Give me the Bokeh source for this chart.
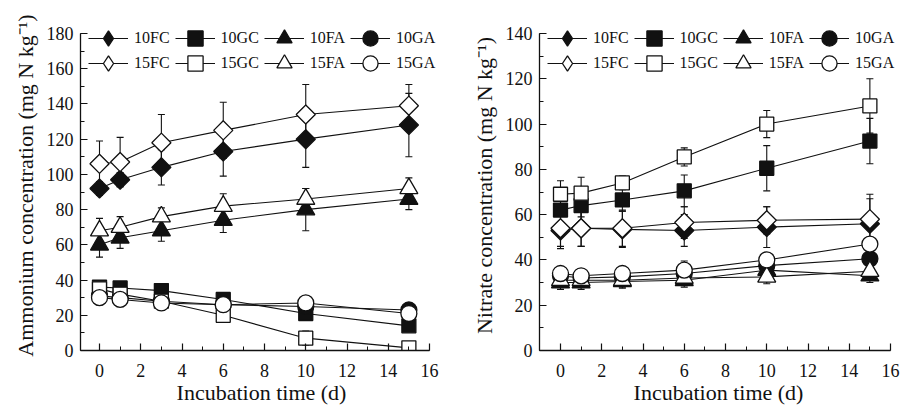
import numpy as np
from bokeh.plotting import figure
from bokeh.models import (Range1d, SingleIntervalTicker, ColumnDataSource, Whisker,
                          TeeHead, Legend, LegendItem)
from bokeh.layouts import row
from bokeh.embed import file_html
from bokeh.resources import INLINE

FONT = "Liberation Serif"

# ---------------- data ----------------
days = [0, 1, 3, 6, 10, 15]
treatments = ["FC", "GC", "FA", "GA"]

# Ammonium (mg N kg-1)
nh4_10FC = [92, 97, 104, 113, 120, 128]
nh4_10GC = [36, 35.5, 34, 29, 21, 14]
nh4_10FA = [60, 64, 68, 74, 80, 86]
nh4_10GA = [31, 30, 28, 26, 25, 23]
nh4_15FC = [106, 107, 118, 125, 134, 139]
nh4_15GC = [35, 32, 28, 20, 7, 1.5]
nh4_15FA = [68, 70, 76, 82, 86, 92]
nh4_15GA = [30, 29, 27, 26, 27, 21]

nh4_err_10FC = [4, 4, 10, 14, 16, 18]
nh4_err_10GC = [3, 3, 3, 3, 3, 3]
nh4_err_10FA = [7, 6, 6, 7, 12, 6]
nh4_err_10GA = [3, 3, 3, 3, 3, 3]
nh4_err_15FC = [13, 14, 16, 16, 17, 12]
nh4_err_15GC = [3, 3, 3, 3, 4, 3]
nh4_err_15FA = [7, 6, 5, 7, 6, 6]
nh4_err_15GA = [4, 4, 4, 5, 3, 4]

# Nitrate (mg N kg-1)
no3_10FC = [53, 54, 53.5, 53, 54.5, 56]
no3_10GC = [62, 64, 66.5, 70.5, 80.5, 92.5]
no3_10FA = [30, 30, 30.5, 31, 35.5, 33]
no3_10GA = [33, 32, 32.5, 34, 37.5, 40.5]
no3_15FC = [54, 54, 54, 56.5, 57.5, 58]
no3_15GC = [69, 69.5, 74, 85.5, 100, 108]
no3_15FA = [31, 31, 31, 32, 32.5, 35]
no3_15GA = [34, 33, 34, 35.5, 40, 47]

no3_err_10FC = [8, 8, 8, 7, 9, 11]
no3_err_10GC = [6, 5, 5, 7, 10, 10]
no3_err_10FA = [3, 3, 3, 3, 3, 3]
no3_err_10GA = [3, 3, 3, 3, 3, 3]
no3_err_15FC = [8, 8, 8, 7, 6, 11]
no3_err_15GC = [6, 7, 3, 4, 6, 12]
no3_err_15FA = [3, 3, 3, 3, 3, 3]
no3_err_15GA = [3, 3, 3, 4, 3, 3]

x_ticks_interval = 2
x_axis_max = 16
# --------------------------------------

nh4 = {
    "10FC": (nh4_10FC, nh4_err_10FC), "10GC": (nh4_10GC, nh4_err_10GC),
    "10FA": (nh4_10FA, nh4_err_10FA), "10GA": (nh4_10GA, nh4_err_10GA),
    "15FC": (nh4_15FC, nh4_err_15FC), "15GC": (nh4_15GC, nh4_err_15GC),
    "15FA": (nh4_15FA, nh4_err_15FA), "15GA": (nh4_15GA, nh4_err_15GA),
}
no3 = {
    "10FC": (no3_10FC, no3_err_10FC), "10GC": (no3_10GC, no3_err_10GC),
    "10FA": (no3_10FA, no3_err_10FA), "10GA": (no3_10GA, no3_err_10GA),
    "15FC": (no3_15FC, no3_err_15FC), "15GC": (no3_15GC, no3_err_15GC),
    "15FA": (no3_15FA, no3_err_15FA), "15GA": (no3_15GA, no3_err_15GA),
}

MARK = {
    "FC": dict(marker="square", size=13.5, angle=np.pi / 4),
    "GC": dict(marker="square", size=14, angle=0),
    "FA": dict(marker="triangle", size=18, angle=0),
    "GA": dict(marker="circle", size=16, angle=0),
}
INK = "#111111"
FIG_H = 410
TOP = 20          # frame top (extra headroom so the legend is not clipped)
BOTTOM = 60
FRAME_H = FIG_H - TOP - BOTTOM
AXIS_PX = 317     # pixel length of the drawn y axis
X_PX_PER_UNIT = 330 / 16


def make_panel(data, ylabel, ymax, x_start, width, border_left, border_right):
    frame_w = width - border_left - border_right
    x_end = x_start + frame_w / X_PX_PER_UNIT
    y_end = ymax * FRAME_H / AXIS_PX
    p = figure(width=width, height=FIG_H, output_backend="svg", toolbar_location=None,
               x_range=Range1d(x_start, x_end), y_range=Range1d(0, y_end),
               min_border_left=border_left, min_border_right=border_right,
               min_border_top=TOP, min_border_bottom=BOTTOM)
    p.grid.visible = False
    p.outline_line_color = None
    p.background_fill_color = "white"
    p.border_fill_color = "white"

    p.xaxis.ticker = SingleIntervalTicker(interval=x_ticks_interval, num_minor_ticks=2)
    p.yaxis.ticker = SingleIntervalTicker(interval=20, num_minor_ticks=2)
    p.xaxis.bounds = (x_start, x_axis_max)
    p.yaxis.bounds = (0, ymax)
    p.xaxis.axis_label = "Incubation time (d)"
    p.yaxis.axis_label = ylabel
    for ax in (p.xaxis, p.yaxis):
        ax.major_tick_in = 7
        ax.major_tick_out = 0
        ax.minor_tick_in = 4
        ax.minor_tick_out = 0
        ax.axis_line_width = 1.3
        ax.axis_line_color = INK
        ax.major_tick_line_color = INK
        ax.minor_tick_line_color = INK
        ax.major_tick_line_width = 1.2
        ax.major_label_text_font = FONT
        ax.major_label_text_font_size = "18px"
        ax.major_label_text_color = INK
        ax.axis_label_text_font = FONT
        ax.axis_label_text_font_size = "22px"
        ax.axis_label_text_font_style = "normal"
        ax.axis_label_text_color = INK
    p.xaxis.major_label_standoff = 13
    p.xaxis.axis_label_standoff = 0
    p.yaxis.major_label_standoff = 7
    p.yaxis.axis_label_standoff = 6

    items_rows = {"10": [], "15": []}
    for lvl in ("10", "15"):
        for tr in treatments:
            name = lvl + tr
            vals, errs = data[name]
            v = np.array(vals, dtype=float)
            e = np.array(errs, dtype=float)
            src = ColumnDataSource(dict(x=days, y=v, lo=v - e, hi=v + e))
            fill = INK if lvl == "10" else "white"
            ln = p.line("x", "y", source=src, line_color=INK, line_width=1.1)
            m = MARK[tr]
            key = None
            if tr == "FC":
                # legend symbol (legend keys are drawn unrotated); hidden under the
                # rotated square drawn on top of it
                key = p.scatter("x", "y", source=src, marker="diamond", size=12,
                                fill_color=fill, line_color=INK, line_width=1.3)
            sc = p.scatter("x", "y", source=src, marker=m["marker"], size=m["size"],
                           angle=m["angle"], fill_color=fill,
                           line_color=INK, line_width=1.3)
            wk = Whisker(source=src, base="x", upper="hi", lower="lo",
                         line_color=INK, line_width=1.1,
                         upper_head=TeeHead(size=7, line_color=INK, line_width=1.1),
                         lower_head=TeeHead(size=7, line_color=INK, line_width=1.1))
            p.add_layout(wk)
            items_rows[lvl].append(LegendItem(label=name, renderers=[ln, key or sc]))

    gh = 38
    for lvl, cy in (("10", 18), ("15", 43)):
        lg = Legend(items=items_rows[lvl], orientation="horizontal",
                    location=(8, FRAME_H - cy - gh / 2),
                    glyph_width=40, glyph_height=gh, label_height=gh,
                    label_standoff=6, spacing=5, padding=0, margin=0,
                    border_line_color=None, background_fill_alpha=0,
                    label_text_font=FONT, label_text_font_size="16px",
                    label_text_color=INK)
        p.add_layout(lg)
    return p


p1 = make_panel(nh4, "Ammonium concentration (mg N kg\u207b\u00b9)", 180, -19 / X_PX_PER_UNIT,
                451, 80, 9)
p2 = make_panel(no3, "Nitrate concentration (mg N kg\u207b\u00b9)", 140, -21 / X_PX_PER_UNIT,
                450, 88, 4)

layout = row(p1, p2)
open("out.html", "w").write(file_html(layout, INLINE))
